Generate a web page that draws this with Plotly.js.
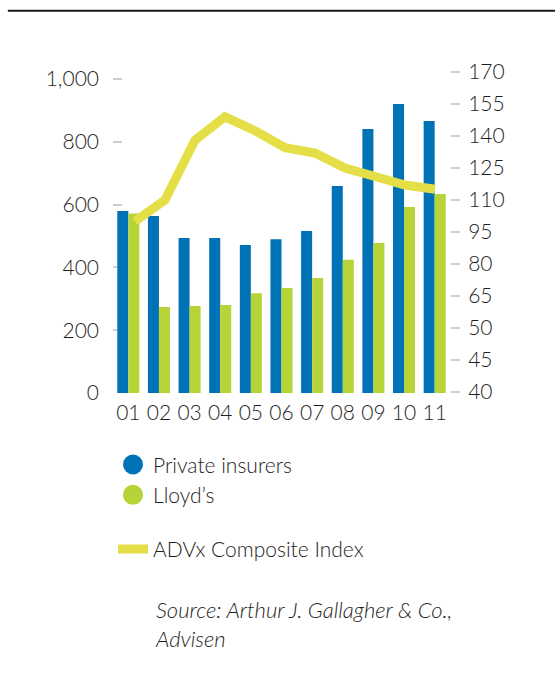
<!DOCTYPE html>
<html>
<head>
<meta charset="utf-8">
<script src="https://cdn.plot.ly/plotly-3.0.1.min.js"></script>
<style>
  html, body { margin: 0; padding: 0; background: #fff; }
  #chart { width: 555px; height: 680px; }
</style>
</head>
<body>
<div id="chart"></div>
<script>
const years = ['01','02','03','04','05','06','07','08','09','10','11'];
const privateInsurers = [580, 564, 494, 494, 471, 490, 516, 659, 841, 920, 866];
const lloyds = [572, 274, 277, 280, 318, 334, 366, 424, 478, 592, 634];
const advxIndex = [100, 110, 138, 149, 142.5, 134.5, 132, 125, 121, 117, 115];
const leftTicks = [0, 200, 400, 600, 800, 1000];
const leftTickText = ['0', '200', '400', '600', '800', '1,000'];
const rightTickVals = [20, 35, 50, 65, 80, 95, 110, 125, 140, 155, 170];
const rightTickText = ['40', '45', '50', '65', '80', '95', '110', '125', '140', '155', '170'];

const FONT = 'Lato, "Open Sans", "DejaVu Sans", sans-serif';
const TXT = '#1e1e1e';
const BLUE = '#0072B6';
const GREEN = '#B6D337';
const YELLOW = '#E4DF47';

const traces = [
  { type: 'bar', name: 'Private insurers', x: years, y: privateInsurers,
    marker: { color: BLUE }, showlegend: false, hoverinfo: 'x+y' },
  { type: 'bar', name: "Lloyd’s", x: years, y: lloyds,
    marker: { color: GREEN }, showlegend: false, hoverinfo: 'x+y' },
  { type: 'scatter', mode: 'lines', name: 'ADVx Composite Index',
    x: years, y: advxIndex, xaxis: 'x2', yaxis: 'y2',
    line: { color: YELLOW, width: 9 }, legendgroup: 'g2', legendrank: 3 },
  { type: 'scatter', mode: 'markers', name: 'Private insurers', x: [null], y: [null],
    marker: { color: BLUE, size: 16, line: { color: BLUE, width: 4 } },
    legendgroup: 'g1', legendrank: 1 },
  { type: 'scatter', mode: 'markers', name: "Lloyd’s", x: [null], y: [null],
    marker: { color: GREEN, size: 16, line: { color: GREEN, width: 4 } },
    legendgroup: 'g1', legendrank: 2 }
];

const layout = {
  width: 555, height: 680,
  margin: { l: 113, r: 105, t: 72, b: 287 },
  paper_bgcolor: '#fff', plot_bgcolor: 'rgba(0,0,0,0)',
  font: { family: FONT, color: TXT, size: 21, weight: 300 },
  barmode: 'group', bargap: 0.28, bargroupgap: 0,
  xaxis: {
    type: 'category', categoryorder: 'array', categoryarray: years,
    showline: false, showgrid: false, zeroline: false, ticks: '',
    ticklabelstandoff: 5,
    tickfont: { size: 21, color: TXT, weight: 300 }, fixedrange: true
  },
  xaxis2: {
    type: 'category', categoryorder: 'array', categoryarray: years,
    overlaying: 'x', range: [-0.733, 10.5], visible: false, fixedrange: true
  },
  yaxis: {
    range: [0, 1022.3], tickvals: leftTicks, ticktext: leftTickText,
    showline: false, showgrid: false, zeroline: false,
    ticks: 'inside', ticklen: 9, tickwidth: 1.5, tickcolor: '#cfcfcf',
    layer: 'below traces', ticklabelstandoff: 13,
    tickfont: { size: 21, color: TXT, weight: 300 }, fixedrange: true
  },
  yaxis2: {
    overlaying: 'y', side: 'right', range: [19.5, 170],
    tickvals: rightTickVals, ticktext: rightTickText,
    showline: false, showgrid: false, zeroline: false,
    ticks: 'outside', ticklen: 9, tickwidth: 1.5, tickcolor: '#cfcfcf',
    ticklabelstandoff: 4,
    tickfont: { size: 21, color: TXT, weight: 300 }, fixedrange: true
  },
  showlegend: true,
  legend: {
    x: 0.0, y: -0.16, xanchor: 'left', yanchor: 'top',
    traceorder: 'grouped', tracegroupgap: 24,
    font: { size: 21, color: TXT, family: FONT, weight: 300 },
    bgcolor: 'rgba(0,0,0,0)', itemclick: false, itemdoubleclick: false
  },
  shapes: [
    { type: 'line', xref: 'paper', yref: 'paper',
      x0: -0.312, x1: 1.32, y0: 1.191, y1: 1.191,
      line: { color: '#1a1a1a', width: 2 } }
  ],
  annotations: [
    { xref: 'paper', yref: 'paper', x: 0.1187, y: -0.625,
      xanchor: 'left', yanchor: 'top', align: 'left', showarrow: false,
      text: 'Source: Arthur J. Gallagher &amp; Co.,<br>Advisen',
      font: { family: FONT, size: 22, color: TXT, style: 'italic', weight: 300 } }
  ]
};

Plotly.newPlot('chart', traces, layout, { displayModeBar: false });
</script>
</body>
</html>
